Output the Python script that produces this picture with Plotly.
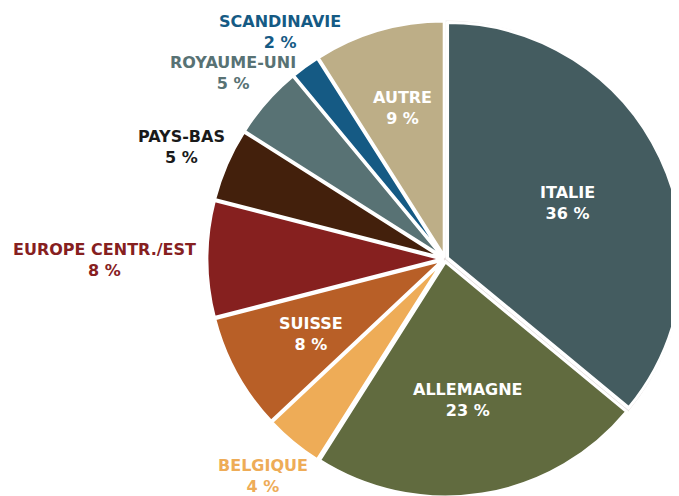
import plotly.graph_objects as go

# share of each market, clockwise from 12 o'clock
labels = ["ITALIE", "ALLEMAGNE", "BELGIQUE", "SUISSE", "EUROPE CENTR./EST",
          "PAYS-BAS", "ROYAUME-UNI", "SCANDINAVIE", "AUTRE"]
values = [36, 23, 4, 8, 8, 5, 5, 2, 9]
colors = ["#445c60", "#616b3f", "#eeac57", "#b85f27", "#86201f",
          "#43200c", "#587274", "#155a84", "#bdae87"]
label_colors = ["white", "white", "#eeac57", "white", "#86201f",
                "#1a1a1a", "#587274", "#155a84", "white"]
# label block centres, in px from top-left of the page
label_xy = [(567, 203), (467, 400), (263, 476), (311, 334), (104, 260),
            (181, 147), (233, 73), (280, 32), (402, 108)]

W, H = 679, 496
PAGE = 8          # default body margin of the html page
FONT = "DejaVu Sans"

# pie centre and outer radius on the page
CX, CY, R = 445, 259, 238
cx, cy = CX - PAGE, CY - PAGE

dom_x = [(cx - R) / W, min((cx + R) / W, 1)]
dom_y = [1 - (cy + R) / H, 1 - (cy - R) / H]

fig = go.Figure()

# faint outline of the unpulled pie
fig.add_trace(go.Pie(
    labels=labels, values=values, sort=False, direction="clockwise", rotation=0,
    marker=dict(colors=["rgba(0,0,0,0)"] * len(values), line=dict(color="#e4dede", width=0.8)),
    textinfo="none", hoverinfo="skip", showlegend=False,
    domain=dict(x=dom_x, y=dom_y),
))

fig.add_trace(go.Pie(
    labels=labels,
    values=values,
    sort=False,
    direction="clockwise",
    rotation=0,
    marker=dict(colors=colors, line=dict(color="white", width=3)),
    pull=0.012,
    textinfo="none",
    domain=dict(x=dom_x, y=dom_y),
    showlegend=False,
    hoverinfo="label+value",
))

for l, v, c, (x, y) in zip(labels, values, label_colors, label_xy):
    fig.add_annotation(
        x=(x - PAGE) / W, y=1 - (y - PAGE) / H, xref="paper", yref="paper",
        xanchor="center", yanchor="middle",
        text=f"<b>{l}</b><br><b>{v} %</b>",
        showarrow=False, align="center", borderpad=0,
        font=dict(color=c, size=16, family=FONT),
    )

fig.update_layout(
    width=W, height=H,
    margin=dict(l=0, r=0, t=0, b=0),
    paper_bgcolor="white",
    plot_bgcolor="white",
)

fig.write_html("out.html")
